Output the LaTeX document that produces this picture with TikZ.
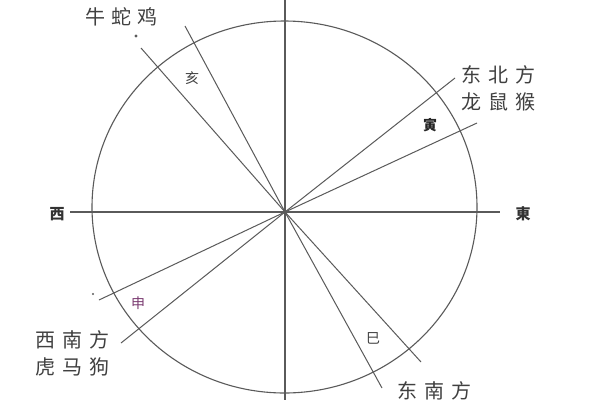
\documentclass[tikz,border=0pt]{standalone}
\usepackage{fontspec}
\newfontfamily\cjk{Noto Sans CJK SC}
\definecolor{ln}{HTML}{5A5A5A}
\definecolor{tx}{HTML}{404040}
\definecolor{pur}{HTML}{7A3A70}
\begin{document}
\begin{tikzpicture}[x=1pt,y=-1pt,
  axis/.style={draw=ln,line width=1.1pt},
  big/.style={text=tx,font=\cjk\fontsize{20}{20}\selectfont,inner sep=0pt},
  small/.style={text=tx,font=\cjk\fontsize{14}{14}\selectfont,inner sep=0pt},
  dir/.style={text=black!80,font=\cjk\bfseries\fontsize{15}{15}\selectfont,inner sep=0pt}]
\useasboundingbox (0,0) rectangle (600,400);
\fill[white] (0,0) rectangle (600,400);
\draw[axis] (284.5,207) ellipse [x radius=192.5, y radius=186];
\coordinate (O) at (285,212);
\coordinate (W) at (70,212);
\coordinate (E) at (500,212);
\coordinate (N) at (285,0);
\coordinate (S) at (285,400);
\coordinate (a) at (141,48);
\coordinate (b) at (185,26);
\coordinate (c) at (455,78);
\coordinate (d) at (477,123);
\coordinate (e) at (99,300);
\coordinate (f) at (121,343);
\coordinate (g) at (421,362);
\coordinate (h) at (382,388);
\draw[axis] (W) -- (E);
\draw[axis] (N) -- (S);
\foreach \p in {a,b,c,d,e,f,g,h} \draw[axis,line width=1pt] (O) -- (\p);
\fill[ln] (136,36) circle (1.6);
\fill[ln] (93,294) circle (1.1);
\node[big] (t1) at (121,17) {牛\hspace{6pt}蛇\hspace{6pt}鸡};
\node[small] (hai) at (192,78) {亥};
\node[big] (t2) at (498,75) {东\hspace{7pt}北\hspace{7pt}方};
\node[big] (t3) at (498,102) {龙\hspace{7pt}鼠\hspace{7pt}猴};
\node[small,font=\cjk\bfseries\fontsize{14}{14}\selectfont,text=black!85] (yin) at (430,125) {寅};
\node[dir] (xi) at (57,214) {西};
\node[dir] (dong) at (523,214) {東};
\node[small,text=pur] (shen) at (138,303) {申};
\node[big] (t4) at (72,340) {西\hspace{7pt}南\hspace{7pt}方};
\node[big] (t5) at (72,367) {虎\hspace{7pt}马\hspace{7pt}狗};
\node[small] (si) at (373,338) {巳};
\node[big] (t6) at (434,391) {东\hspace{7pt}南\hspace{7pt}方};
\end{tikzpicture}
\end{document}
